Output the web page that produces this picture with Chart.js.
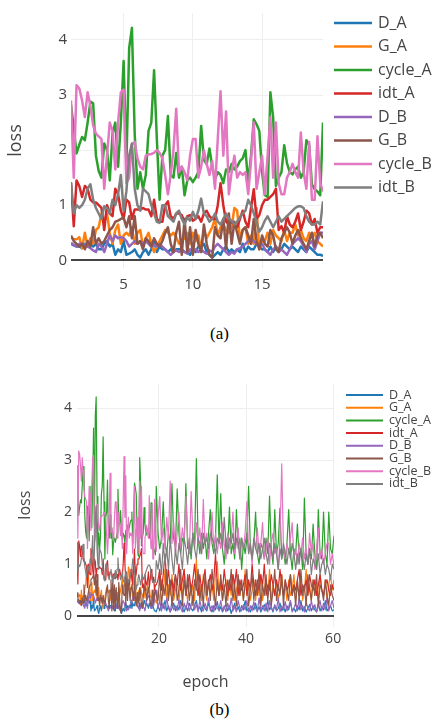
<!DOCTYPE html>
<html>
<head>
<meta charset="utf-8">
<script src="https://cdn.jsdelivr.net/npm/chart.js@4/dist/chart.umd.min.js"></script>
<style>
  html, body { margin: 0; padding: 0; background: #fff; overflow: hidden; }
  body { width: 439px; height: 723px; position: relative; }
  canvas { position: absolute; left: 0; }
  #chartA { top: 0; }
  #chartB { top: 370px; }
  .caption { position: absolute; left: 0; width: 439px; text-align: center;
             font-family: "Liberation Serif", "DejaVu Serif", serif; font-size: 17px; color: #000; }
</style>
</head>
<body>
<canvas id="chartA" width="439" height="298"></canvas>
<div class="caption" style="top:324px">(a)</div>
<canvas id="chartB" width="439" height="330"></canvas>
<div class="caption" style="top:700px">(b)</div>
<script>
// series names and tick labels
var seriesNames = ['D_A', 'G_A', 'cycle_A', 'idt_A', 'D_B', 'G_B', 'cycle_B', 'idt_B'];
var xTicksA = [5, 10, 15];
var xTicksB = [20, 40, 60];
var yTicks = [0, 1, 2, 3, 4];

// loss values, epochs 1.2 .. 19.4 (every 0.2 epoch) - shown in (a) and (b)
var D_A = [0.3, 0.27, 0.25, 0.25, 0.22, 0.3, 0.25, 0.3, 0.25, 0.3,
  0.2, 0.2, 0.3, 0.35, 0.25, 0.3, 0.1, 0.2, 0.15, 0.35,
  0.1, 0.12, 0.15, 0.2, 0.1, 0.05, 0.15, 0.2, 0.1, 0.2,
  0.35, 0.15, 0.25, 0.2, 0.2, 0.15, 0.2, 0.15, 0.2, 0.2,
  0.2, 0.15, 0.15, 0.1, 0.2, 0.15, 0.25, 0.25, 0.3, 0.15,
  0.1, 0.05, 0.1, 0.15, 0.1, 0.2, 0.25, 0.15, 0.2, 0.15,
  0.2, 0.15, 0.3, 0.15, 0.25, 0.2, 0.2, 0.3, 0.25, 0.2,
  0.2, 0.15, 0.25, 0.15, 0.25, 0.2, 0.2, 0.3, 0.25, 0.2,
  0.25, 0.2, 0.15, 0.25, 0.2, 0.15, 0.25, 0.2, 0.15, 0.1,
  0.1, 0.08];
var G_A = [0.42, 0.38, 0.38, 0.42, 0.22, 0.5, 0.25, 0.4, 0.3, 0.55,
  0.6, 0.85, 0.7, 0.85, 0.5, 0.3, 0.55, 0.65, 0.3, 0.45,
  0.5, 0.45, 0.6, 0.3, 0.5, 0.55, 0.25, 0.4, 0.5, 0.3,
  0.15, 0.25, 0.35, 0.45, 0.55, 0.5, 0.45, 0.5, 0.42, 0.3,
  0.35, 0.4, 0.5, 0.3, 0.5, 0.35, 0.45, 0.2, 0.55, 0.4,
  0.5, 0.6, 0.75, 0.45, 0.6, 0.65, 0.55, 0.5, 0.6, 0.95,
  0.9, 0.4, 0.55, 0.6, 0.3, 0.45, 0.3, 0.95, 0.2, 0.35,
  0.35, 0.5, 0.3, 0.55, 0.45, 0.4, 0.35, 0.55, 0.35, 0.5,
  0.5, 0.65, 0.45, 0.55, 0.4, 0.35, 0.5, 0.4, 0.5, 0.35,
  0.3, 0.25];
var cycle_A = [2.82, 2.4, 1.94, 2.1, 2.24, 2.18, 2.5, 2.88, 2.85, 1.9,
  1.62, 1.5, 2.12, 2.0, 1.45, 2.3, 2.5, 1.7, 2.5, 3.62,
  1.75, 3.85, 4.22, 2.3, 1.3, 1.6, 1.3, 1.55, 2.35, 2.5,
  3.45, 2.2, 1.1, 1.9, 2.0, 2.62, 1.55, 1.5, 1.95, 1.5,
  1.7, 1.18, 1.45, 1.5, 1.42, 1.5, 1.6, 2.44, 1.82, 1.75,
  2.03, 1.7, 1.47, 1.6, 1.55, 1.4, 1.65, 1.6, 1.75, 1.65,
  1.7, 1.8, 1.85, 2.0, 1.4, 1.9, 2.56, 2.47, 2.35, 1.6,
  1.18, 1.15, 3.05, 2.59, 1.35, 1.5, 1.6, 2.09, 1.76, 1.6,
  1.56, 1.65, 1.7, 1.5, 1.6, 2.18, 2.09, 1.38, 1.29, 1.25,
  1.18, 2.5];
var idt_A = [1.4, 0.62, 1.45, 1.35, 1.15, 1.35, 1.3, 1.1, 1.05, 1.05,
  1.0, 0.95, 0.55, 1.0, 0.85, 0.8, 1.3, 1.2, 0.9, 0.75,
  1.1, 1.05, 0.75, 0.92, 0.92, 0.92, 0.95, 0.92, 0.92, 0.8,
  1.1, 0.75, 0.7, 0.7, 1.0, 1.07, 0.8, 0.75, 0.85, 0.85,
  0.82, 0.7, 0.8, 0.82, 0.72, 0.75, 0.8, 0.7, 0.85, 0.9,
  0.8, 0.75, 0.75, 1.0, 1.4, 1.0, 0.7, 0.65, 0.7, 0.65,
  0.6, 0.75, 0.9, 0.7, 0.6, 0.95, 1.29, 0.75, 0.82, 1.0,
  1.1, 1.1, 1.15, 1.2, 1.3, 0.55, 0.62, 0.5, 0.8, 0.65,
  0.6, 0.7, 0.85, 0.55, 0.7, 0.9, 0.85, 0.65, 0.75, 0.5,
  0.6, 0.6];
var D_B = [0.32, 0.28, 0.25, 0.3, 0.3, 0.28, 0.25, 0.22, 0.18, 0.15,
  0.3, 0.25, 0.15, 0.3, 0.45, 0.35, 0.45, 0.4, 0.42, 0.4,
  0.35, 0.25, 0.3, 0.35, 0.3, 0.35, 0.3, 0.35, 0.3, 0.25,
  0.28, 0.25, 0.3, 0.25, 0.2, 0.15, 0.1, 0.15, 0.18, 0.15,
  0.2, 0.15, 0.12, 0.2, 0.15, 0.2, 0.15, 0.2, 0.15, 0.12,
  0.18, 0.15, 0.25, 0.3, 0.25, 0.2, 0.15, 0.1, 0.15, 0.12,
  0.2, 0.22, 0.25, 0.3, 0.35, 0.4, 0.35, 0.3, 0.25, 0.3,
  0.2, 0.15, 0.1, 0.2, 0.25, 0.15, 0.2, 0.15, 0.1, 0.2,
  0.3, 0.35, 0.4, 0.35, 0.25, 0.15, 0.3, 0.35, 0.2, 0.35,
  0.5, 0.5];
var G_B = [0.45, 0.35, 0.3, 0.25, 0.3, 0.2, 0.35, 0.25, 0.6, 0.3,
  0.4, 0.3, 0.35, 0.45, 0.55, 0.6, 0.7, 0.72, 0.75, 0.78,
  0.6, 0.8, 0.4, 0.8, 0.3, 0.35, 0.2, 0.4, 0.35, 0.25,
  0.4, 0.3, 0.25, 0.35, 0.5, 0.6, 0.3, 0.15, 0.5, 0.7,
  0.1, 0.75, 0.15, 0.6, 0.1, 0.55, 0.3, 0.15, 0.65, 0.3,
  0.1, 0.05, 0.6, 0.45, 0.4, 0.75, 0.2, 0.85, 0.3, 0.7,
  0.5, 0.3, 0.55, 0.6, 0.45, 0.3, 0.75, 0.35, 0.2, 0.45,
  0.3, 0.25, 0.55, 0.45, 0.2, 0.15, 0.4, 0.5, 0.6, 0.5,
  0.3, 0.45, 0.55, 0.4, 0.3, 0.2, 0.35, 0.5, 0.25, 0.45,
  0.5, 0.4];
var cycle_B = [2.9, 1.5, 3.18, 3.12, 2.9, 2.6, 3.05, 2.8, 2.45, 2.3,
  2.25, 2.2, 1.3, 1.9, 2.5, 2.35, 1.65, 2.5, 3.05, 3.1,
  1.4, 1.5, 2.1, 2.15, 1.85, 1.7, 1.65, 1.9, 1.92, 1.93,
  1.95, 2.0, 1.95, 1.85, 1.55, 1.2, 1.55, 2.0, 2.75, 1.6,
  1.7, 1.6, 1.45, 1.9, 2.2, 2.2, 1.5, 1.7, 2.0, 1.75,
  1.55, 1.8, 1.3, 2.2, 3.07, 1.9, 2.7, 1.2, 1.6, 1.9,
  1.5, 1.6, 1.55, 1.6, 1.2, 1.8, 2.5, 1.3, 1.6, 1.9,
  1.2, 1.9, 2.6, 1.5, 2.5, 1.4, 1.2, 1.2, 1.5, 1.6,
  1.75, 1.6, 1.5, 2.32, 1.6, 1.3, 2.15, 1.1, 1.1, 2.25,
  1.4, 1.25];
var idt_B = [1.42, 0.85, 1.0, 0.95, 1.0, 1.1, 1.3, 1.38, 1.1, 0.95,
  0.85, 0.75, 0.98, 0.95, 0.85, 1.1, 1.0, 1.2, 1.55, 0.9,
  1.25, 1.9, 2.12, 1.3, 1.0, 0.9, 1.3, 1.25, 1.2, 1.0,
  0.85, 0.7, 0.68, 1.0, 1.0, 0.8, 0.75, 0.7, 0.85, 0.9,
  0.75, 0.65, 0.78, 0.72, 0.88, 0.75, 0.9, 1.12, 0.85, 0.8,
  0.7, 0.75, 0.85, 0.7, 0.65, 0.75, 0.85, 0.75, 0.72, 0.65,
  0.7, 0.78, 0.85, 0.9, 1.1, 1.0, 0.85, 0.7, 0.52, 0.6,
  0.72, 0.8, 0.7, 0.6, 0.7, 0.8, 0.7, 0.75, 0.8, 0.85,
  0.9, 0.95, 0.98, 0.98, 0.95, 0.8, 0.7, 0.65, 0.65, 0.7,
  0.65, 1.07];

// loss values, epochs 19.8 .. 60.2 (every 0.4 epoch) - only in (b)
var D_A_late = [0.2, 0.1, 0.25, 0.15, 0.3, 0.1, 0.2, 0.08, 0.15, 0.25,
  0.1, 0.2, 0.12, 0.3, 0.15, 0.08, 0.2, 0.1, 0.25, 0.15,
  0.1, 0.2, 0.3, 0.12, 0.18, 0.08, 0.22, 0.15, 0.1, 0.25,
  0.15, 0.08, 0.2, 0.12, 0.28, 0.1, 0.18, 0.08, 0.15, 0.22,
  0.1, 0.2, 0.05, 0.15, 0.25, 0.1, 0.18, 0.08, 0.2, 0.12,
  0.3, 0.1, 0.15, 0.08, 0.2, 0.12, 0.25, 0.1, 0.18, 0.08,
  0.15, 0.22, 0.1, 0.3, 0.12, 0.18, 0.08, 0.2, 0.1, 0.15,
  0.25, 0.1, 0.18, 0.08, 0.2, 0.12, 0.28, 0.1, 0.15, 0.08,
  0.2, 0.12, 0.3, 0.1, 0.18, 0.08, 0.15, 0.22, 0.1, 0.2,
  0.12, 0.08, 0.25, 0.1, 0.18, 0.12, 0.3, 0.1, 0.15, 0.2,
  0.1, 0.12];
var G_A_late = [0.5, 0.3, 0.7, 0.4, 0.9, 0.3, 0.6, 0.4, 0.8, 0.3,
  0.5, 0.7, 0.3, 0.6, 0.4, 0.9, 0.5, 0.3, 0.7, 0.4,
  0.6, 0.3, 1.1, 0.4, 0.6, 0.3, 0.8, 0.5, 0.3, 0.7,
  0.4, 0.6, 0.3, 0.8, 1.05, 0.4, 0.6, 0.3, 0.5, 0.7,
  0.3, 0.6, 0.4, 0.8, 0.3, 0.5, 0.7, 0.4, 0.6, 0.3,
  0.9, 0.4, 0.6, 0.3, 0.5, 0.7, 0.3, 0.6, 0.4, 0.8,
  0.3, 0.5, 0.7, 0.4, 0.9, 0.3, 0.6, 0.4, 0.7, 0.3,
  0.5, 0.8, 0.4, 0.6, 0.3, 0.7, 0.4, 0.5, 0.8, 0.3,
  0.6, 0.4, 0.7, 0.3, 0.5, 0.9, 0.4, 0.6, 0.3, 0.7,
  0.4, 0.6, 0.3, 0.8, 0.5, 0.4, 0.7, 0.3, 0.6, 0.8,
  0.5, 0.7];
var cycle_A_late = [1.6, 1.3, 1.5, 2.2, 1.4, 1.2, 1.6, 1.4, 2.55, 1.5,
  1.3, 2.45, 1.6, 1.2, 1.5, 1.4, 2.55, 1.3, 1.5, 1.1,
  1.6, 1.4, 3.03, 1.5, 1.2, 1.6, 1.3, 1.5, 1.1, 1.6,
  2.05, 1.4, 1.2, 1.5, 2.72, 1.4, 2.36, 1.3, 1.0, 1.5,
  1.3, 2.1, 1.2, 1.4, 1.1, 2.05, 1.3, 1.5, 0.9, 1.4,
  1.2, 1.5, 2.5, 1.3, 1.1, 1.4, 2.0, 1.2, 1.0, 1.4,
  1.3, 1.1, 1.5, 1.2, 2.31, 1.3, 1.0, 2.05, 1.2, 1.4,
  2.08, 1.1, 1.3, 1.0, 1.4, 2.05, 1.2, 0.9, 1.3, 1.2,
  1.77, 1.1, 1.3, 0.9, 2.27, 1.2, 1.0, 1.3, 1.1, 1.77,
  1.2, 0.9, 2.05, 1.2, 1.1, 2.0, 1.2, 1.0, 2.0, 1.3,
  1.2, 1.55];
var idt_A_late = [0.7, 0.9, 0.5, 0.8, 1.2, 0.6, 0.9, 0.5, 0.7, 0.4,
  0.8, 0.6, 1.0, 0.5, 0.7, 0.9, 0.4, 0.6, 0.8, 0.5,
  0.7, 1.0, 0.6, 0.4, 0.8, 0.5, 0.7, 0.9, 0.4, 0.6,
  0.8, 0.5, 0.7, 1.2, 0.6, 0.4, 0.7, 0.5, 0.9, 0.6,
  0.4, 0.7, 0.5, 0.8, 0.6, 0.9, 0.4, 0.7, 0.5, 0.6,
  0.8, 0.4, 0.7, 0.5, 1.0, 0.6, 0.4, 0.7, 0.5, 0.8,
  0.6, 1.0, 0.4, 0.6, 0.5, 0.8, 0.6, 0.4, 0.7, 0.5,
  0.9, 0.6, 0.4, 0.7, 0.5, 0.6, 0.8, 0.4, 0.6, 0.5,
  0.7, 0.9, 0.4, 0.6, 0.5, 0.7, 0.4, 0.8, 0.6, 0.5,
  0.7, 0.4, 0.6, 0.8, 0.5, 0.4, 0.6, 0.7, 0.5, 0.4,
  0.6, 0.5];
var D_B_late = [0.15, 0.3, 0.1, 0.25, 0.12, 0.35, 0.15, 0.08, 0.28, 0.12,
  0.2, 0.1, 0.32, 0.15, 0.08, 0.25, 0.12, 0.3, 0.1, 0.2,
  0.4, 0.12, 0.22, 0.08, 0.3, 0.15, 0.1, 0.25, 0.12, 0.35,
  0.1, 0.2, 0.08, 0.28, 0.15, 0.12, 0.3, 0.1, 0.2, 0.08,
  0.25, 0.12, 0.35, 0.1, 0.18, 0.08, 0.3, 0.15, 0.1, 0.22,
  0.12, 0.3, 0.08, 0.2, 0.1, 0.28, 0.15, 0.08, 0.35, 0.12,
  0.2, 0.1, 0.25, 0.08, 0.3, 0.15, 0.1, 0.22, 0.12, 0.35,
  0.08, 0.2, 0.12, 0.28, 0.1, 0.18, 0.3, 0.08, 0.15, 0.25,
  0.1, 0.35, 0.12, 0.2, 0.08, 0.28, 0.15, 0.1, 0.3, 0.12,
  0.22, 0.08, 0.18, 0.3, 0.1, 0.25, 0.12, 0.35, 0.1, 0.2,
  0.3, 0.15];
var G_B_late = [0.3, 0.8, 0.2, 0.6, 0.4, 0.9, 0.3, 0.7, 0.2, 0.6,
  0.8, 0.3, 0.5, 0.9, 0.2, 0.7, 0.4, 0.8, 0.3, 0.6,
  0.2, 0.7, 0.5, 0.9, 0.3, 0.6, 0.2, 0.8, 0.4, 0.7,
  0.3, 0.9, 0.5, 0.2, 0.7, 0.4, 0.8, 0.3, 0.6, 0.2,
  0.7, 0.5, 0.9, 0.3, 0.6, 0.2, 0.8, 0.4, 0.7, 0.3,
  0.6, 0.9, 0.2, 0.5, 0.8, 0.3, 0.7, 0.4, 0.9, 0.2,
  0.6, 0.4, 0.8, 0.3, 0.7, 0.2, 0.5, 0.9, 0.3, 0.6,
  0.4, 0.8, 0.2, 0.7, 0.5, 0.3, 0.8, 0.4, 0.6, 0.2,
  0.7, 0.3, 0.9, 0.4, 0.6, 0.2, 0.8, 0.5, 0.3, 0.7,
  0.4, 0.8, 0.2, 0.6, 0.5, 0.3, 0.7, 0.4, 0.2, 0.6,
  0.4, 0.3];
var cycle_B_late = [1.9, 2.3, 1.4, 1.7, 1.3, 1.9, 1.5, 2.6, 1.4, 1.8,
  1.2, 1.6, 2.0, 1.3, 1.7, 1.4, 2.3, 1.5, 1.2, 2.4,
  1.6, 1.3, 1.8, 1.4, 1.7, 1.2, 2.25, 1.4, 1.6, 1.1,
  1.5, 2.0, 1.3, 1.6, 1.2, 1.5, 1.3, 1.8, 1.4, 1.1,
  1.6, 1.3, 1.5, 2.0, 1.2, 1.4, 1.7, 1.1, 1.5, 1.3,
  1.6, 2.2, 1.2, 1.4, 1.0, 1.5, 1.3, 1.7, 1.2, 1.4,
  1.8, 1.1, 1.3, 1.5, 1.0, 1.4, 1.6, 1.2, 1.3, 0.9,
  1.5, 2.93, 1.3, 1.1, 1.4, 1.2, 1.5, 1.8, 1.1, 1.3,
  1.0, 1.4, 1.2, 1.5, 1.1, 1.3, 1.0, 1.6, 1.2, 1.4,
  0.9, 1.3, 1.7, 1.1, 1.3, 1.0, 1.2, 1.4, 1.4, 1.0,
  1.2, 0.95];
var idt_B_late = [0.9, 1.2, 0.8, 1.4, 1.0, 1.3, 0.9, 1.5, 1.1, 0.8,
  1.3, 1.0, 1.4, 1.2, 0.9, 1.5, 1.3, 1.0, 1.4, 1.2,
  1.6, 1.3, 1.1, 1.5, 1.4, 1.2, 1.6, 1.4, 1.5, 1.3,
  1.6, 1.5, 1.4, 1.2, 1.5, 1.4, 1.6, 1.3, 1.9, 1.4,
  1.2, 1.5, 1.4, 1.6, 1.3, 1.5, 1.4, 1.1, 1.5, 1.3,
  1.4, 1.6, 1.2, 1.4, 1.1, 1.5, 1.3, 1.2, 1.4, 1.1,
  1.3, 1.5, 1.2, 1.0, 1.4, 1.3, 1.1, 1.4, 1.2, 0.9,
  1.3, 1.1, 1.4, 1.2, 1.0, 1.3, 1.1, 1.4, 1.2, 0.9,
  1.2, 1.0, 1.3, 1.1, 0.9, 1.2, 1.0, 1.3, 0.8, 1.1,
  1.0, 0.9, 1.2, 0.8, 1.0, 1.1, 0.8, 1.0, 0.9, 0.7,
  1.0, 0.9];

var early = [D_A, G_A, cycle_A, idt_A, D_B, G_B, cycle_B, idt_B];
var late = [D_A_late, G_A_late, cycle_A_late, idt_A_late, D_B_late, G_B_late, cycle_B_late, idt_B_late];

// x positions: logged 5 times per epoch early on, thinned to every 0.4 epoch later
var epochsA = D_A.map(function (v, i) { return +(1.2 + 0.2 * i).toFixed(1); });
var epochsLate = D_A_late.map(function (v, i) { return +(19.8 + 0.4 * i).toFixed(1); });

var colors = ['#1f77b4', '#ff7f0e', '#2ca02c', '#d62728', '#9467bd', '#8c564b', '#e377c2', '#7f7f7f'];

// legend drawn as line + label, like plotly
var lineLegend = {
    id: 'lineLegend',
    afterDraw: function (chart, args, opts) {
        var ctx = chart.ctx;
        ctx.save();
        ctx.font = opts.size + 'px "Open Sans"';
        ctx.textBaseline = 'middle';
        ctx.textAlign = 'left';
        chart.data.datasets.forEach(function (ds, i) {
            var y = opts.top + i * opts.gap;
            ctx.strokeStyle = ds.borderColor;
            ctx.lineWidth = opts.lineWidth;
            ctx.beginPath();
            ctx.moveTo(opts.left, y);
            ctx.lineTo(opts.left + opts.length, y);
            ctx.stroke();
            ctx.fillStyle = '#444';
            ctx.fillText(ds.label, opts.left + opts.length + opts.textGap, y);
        });
        ctx.restore();
    }
};

function makeDatasets(series, width) {
    return series.map(function (values, i) {
        return {
            label: seriesNames[i],
            data: values,
            borderColor: colors[i],
            backgroundColor: colors[i],
            borderWidth: width,
            borderJoinStyle: 'round',
            pointRadius: 0,
            fill: false,
            tension: 0,
            order: 7 - i
        };
    });
}

function gridColor(c) { return c.tick.value === 0 ? '#444' : '#eee'; }
function gridWidth(c) { return c.tick.value === 0 ? 2 : 1; }

function makeChart(id, cfg) {
    var ctx = document.getElementById(id).getContext('2d');
    return new Chart(ctx, {
        type: 'line',
        data: { labels: cfg.labels, datasets: makeDatasets(cfg.series, cfg.lineWidth) },
        plugins: [lineLegend],
        options: {
            responsive: false,
            animation: false,
            layout: { padding: cfg.padding },
            plugins: {
                legend: { display: false },
                tooltip: { enabled: false },
                lineLegend: cfg.legend
            },
            scales: {
                x: {
                    type: 'linear',
                    min: cfg.xMin,
                    max: cfg.xMax,
                    afterBuildTicks: function (s) { s.ticks = cfg.xTicks.map(function (v) { return { value: v }; }); },
                    afterFit: function (s) { s.height = cfg.xHeight; },
                    grid: { color: '#eee', drawTicks: false },
                    border: { display: false },
                    ticks: { color: '#444', padding: cfg.xPad, maxRotation: 0, font: { family: 'Open Sans', size: cfg.tickSize } },
                    title: {
                        display: !!cfg.xTitle,
                        text: cfg.xTitle,
                        color: '#444',
                        padding: { top: 0, bottom: 4 },
                        font: { family: 'Open Sans', size: cfg.titleSize }
                    }
                },
                y: {
                    min: cfg.yMin,
                    max: cfg.yMax,
                    afterBuildTicks: function (s) { s.ticks = yTicks.map(function (v) { return { value: v }; }); },
                    afterFit: function (s) { s.width = cfg.yWidth; },
                    grid: { color: gridColor, lineWidth: gridWidth, drawTicks: false },
                    border: { display: false },
                    ticks: { color: '#444', padding: cfg.yPad, font: { family: 'Open Sans', size: cfg.tickSize } },
                    title: {
                        display: true,
                        text: 'loss',
                        color: '#444',
                        padding: { top: cfg.yTitlePad, bottom: 0 },
                        font: { family: 'Open Sans', size: cfg.titleSize }
                    }
                }
            }
        }
    });
}

makeChart('chartA', {
    labels: epochsA,
    series: early,
    lineWidth: 2.5,
    padding: { top: 5, right: 116, left: 0, bottom: 0 },
    xMin: 1.2, xMax: 19.4, xTicks: xTicksA, xHeight: 30, xPad: 8,
    yMin: -0.14, yMax: 4.49, yWidth: 71, yPad: 4, yTitlePad: 5,
    tickSize: 15, titleSize: 18,
    legend: { left: 334, top: 23, gap: 23.5, length: 38, textGap: 6, size: 16, lineWidth: 2.5 }
});

makeChart('chartB', {
    labels: epochsA.concat(epochsLate),
    series: early.map(function (s, i) { return s.concat(late[i]); }),
    lineWidth: 1.2,
    padding: { top: 7, right: 105, left: 0, bottom: 4 },
    xMin: 1.2, xMax: 60.2, xTicks: xTicksB, xHeight: 69, xPad: 4, xTitle: 'epoch',
    yMin: -0.21, yMax: 4.48, yWidth: 77, yPad: 5, yTitlePad: 16,
    tickSize: 14, titleSize: 16,
    legend: { left: 346, top: 25, gap: 12.7, length: 37, textGap: 6, size: 12.5, lineWidth: 2 }
});
</script>
</body>
</html>
